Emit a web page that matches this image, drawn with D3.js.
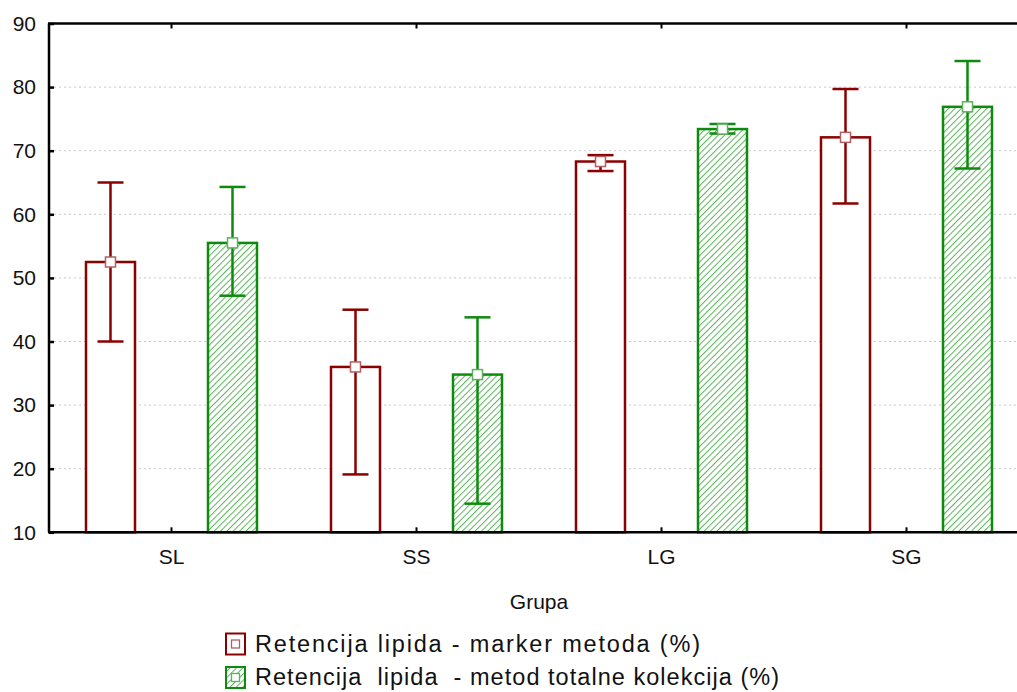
<!DOCTYPE html>
<html>
<head>
<meta charset="utf-8">
<script src="https://cdn.jsdelivr.net/npm/d3@7"></script>
<style>
  html, body { margin: 0; padding: 0; background: #fff; }
  svg { display: block; font-family: "Liberation Sans", Arial, sans-serif; }
</style>
</head>
<body>
<svg id="chart" width="1017" height="692"></svg>
<script>
// Groups on the x axis
const groups = ["SL", "SS", "LG", "SG"];
// Lipid retention, marker method (%): mean, lower and upper error limits
const markerMean = [52.5, 36.0, 68.3, 72.1];
const markerLow  = [40.0, 19.1, 66.8, 61.7];
const markerHigh = [65.0, 45.0, 69.3, 79.7];
// Lipid retention, total collection method (%)
const totalMean = [55.5, 34.8, 73.4, 76.9];
const totalLow  = [47.2, 14.5, 72.7, 67.2];
const totalHigh = [64.3, 43.8, 74.2, 84.1];
const yTicks = [10, 20, 30, 40, 50, 60, 70, 80, 90];
const seriesNames = ["Retencija lipida - marker metoda (%)", "Retencija  lipida  - metod totalne kolekcija (%)"];

const svg = d3.select("#chart");
const plotLeft = 49, plotTop = 23.5, plotBottom = 532.3, plotRight = 1029;

const x = d3.scaleBand().domain(groups).range([plotLeft, plotRight]);
const y = d3.scaleLinear().domain([10, 90]).range([plotBottom, plotTop]);

const red = "#8b0000", green = "#0e8a0e";
const barW = 49, offset = 61, capW = 26;
const fontFam = "Liberation Sans, Arial, sans-serif";

// Hatch pattern for the total collection series
const defs = svg.append("defs");
const pat = defs.append("pattern").attr("id", "hatch")
  .attr("patternUnits", "userSpaceOnUse").attr("width", 4.5).attr("height", 4.5)
  .attr("patternTransform", "rotate(45)");
pat.append("rect").attr("width", 4.5).attr("height", 4.5).attr("fill", "#fff");
pat.append("line").attr("x1", 0).attr("y1", 0).attr("x2", 0).attr("y2", 4.5)
  .attr("stroke", "#5cb45c").attr("stroke-width", 2);

// Dotted gridlines
svg.append("g").selectAll("line").data(yTicks.slice(1, -1)).join("line")
  .attr("x1", plotLeft).attr("x2", plotRight)
  .attr("y1", d => y(d)).attr("y2", d => y(d))
  .attr("stroke", "#c8c8c8").attr("stroke-width", 1).attr("stroke-dasharray", "2,3");

const series = [
  { mean: markerMean, lo: markerLow, hi: markerHigh, color: red, fill: "#fff", dx: -offset, markStroke: "#b06060" },
  { mean: totalMean, lo: totalLow, hi: totalHigh, color: green, fill: "url(#hatch)", dx: offset, markStroke: "#5fb05f" }
];

series.forEach(s => {
  const g = svg.append("g");
  const cx = (d, i) => x(groups[i]) + x.bandwidth() / 2 + s.dx;
  g.selectAll("rect.bar").data(s.mean).join("rect").attr("class", "bar")
    .attr("x", (d, i) => cx(d, i) - barW / 2).attr("width", barW)
    .attr("y", d => y(d)).attr("height", d => plotBottom - y(d))
    .attr("fill", s.fill).attr("stroke", s.color).attr("stroke-width", 2.5);
  // whiskers
  g.selectAll("line.v").data(s.mean).join("line").attr("class", "v")
    .attr("x1", cx).attr("x2", cx)
    .attr("y1", (d, i) => y(s.lo[i])).attr("y2", (d, i) => y(s.hi[i]))
    .attr("stroke", s.color).attr("stroke-width", 2.5);
  g.selectAll("line.capH").data(s.hi).join("line").attr("class", "capH")
    .attr("x1", (d, i) => cx(d, i) - capW / 2).attr("x2", (d, i) => cx(d, i) + capW / 2)
    .attr("y1", d => y(d)).attr("y2", d => y(d))
    .attr("stroke", s.color).attr("stroke-width", 2.5);
  g.selectAll("line.capL").data(s.lo).join("line").attr("class", "capL")
    .attr("x1", (d, i) => cx(d, i) - capW / 2).attr("x2", (d, i) => cx(d, i) + capW / 2)
    .attr("y1", d => y(d)).attr("y2", d => y(d))
    .attr("stroke", s.color).attr("stroke-width", 2.5);
  // mean marker
  g.selectAll("rect.m").data(s.mean).join("rect").attr("class", "m")
    .attr("x", (d, i) => cx(d, i) - 5).attr("y", d => y(d) - 5)
    .attr("width", 10).attr("height", 10)
    .attr("fill", "#fff").attr("stroke", s.markStroke).attr("stroke-width", 1.5);
});

// Frame: left, bottom, top
const axisStroke = 2.5;
svg.append("line").attr("x1", plotLeft).attr("x2", plotLeft).attr("y1", plotTop).attr("y2", plotBottom)
  .attr("stroke", "#000").attr("stroke-width", axisStroke);
svg.append("line").attr("x1", plotLeft - 1).attr("x2", plotRight).attr("y1", plotBottom).attr("y2", plotBottom)
  .attr("stroke", "#000").attr("stroke-width", axisStroke);
svg.append("line").attr("x1", plotLeft - 1).attr("x2", plotRight).attr("y1", plotTop).attr("y2", plotTop)
  .attr("stroke", "#000").attr("stroke-width", axisStroke);

// Y axis
const yAxis = d3.axisLeft(y).tickValues(yTicks).tickSize(-5).tickPadding(13);
const ya = svg.append("g").attr("transform", `translate(${plotLeft},0)`).call(yAxis);
ya.select(".domain").remove();
ya.selectAll(".tick line").attr("stroke", "#000").attr("stroke-width", 2.5);
ya.selectAll(".tick text").attr("font-size", 21).attr("fill", "#111")
  .attr("font-family", fontFam);

// X axis
const xAxis = d3.axisBottom(x).tickSize(-5).tickPadding(17);
const xa = svg.append("g").attr("transform", `translate(0,${plotBottom})`).call(xAxis);
xa.select(".domain").remove();
xa.selectAll(".tick line").attr("stroke", "#000").attr("stroke-width", 2);
xa.selectAll(".tick text").attr("font-size", 21).attr("fill", "#111")
  .attr("font-family", fontFam);

// Top ticks
svg.append("g").selectAll("line").data(groups).join("line")
  .attr("x1", d => x(d) + x.bandwidth() / 2).attr("x2", d => x(d) + x.bandwidth() / 2)
  .attr("y1", plotTop).attr("y2", plotTop + 5).attr("stroke", "#000").attr("stroke-width", 2);

// X axis title
svg.append("text").attr("x", (plotLeft + plotRight) / 2).attr("y", 609)
  .attr("text-anchor", "middle").attr("font-size", 21).attr("fill", "#111").text("Grupa");

// Legend
const legend = svg.append("g");
const legBaseline = [651.5, 685];
const legWidth = [445, 524];
const legStyle = [
  { stroke: red, fill: "#fff", inner: "#b06060" },
  { stroke: green, fill: "url(#hatch)", inner: "#5fb05f" }
];
legStyle.forEach((st, i) => {
  const by = legBaseline[i] - 18;
  legend.append("rect").attr("x", 226).attr("y", by).attr("width", 19).attr("height", 21)
    .attr("fill", st.fill).attr("stroke", st.stroke).attr("stroke-width", 2);
  legend.append("rect").attr("x", 231.5).attr("y", by + 6.5).attr("width", 8).attr("height", 8)
    .attr("fill", "#fff").attr("stroke", st.inner).attr("stroke-width", 1.3);
  legend.append("text").attr("x", 255).attr("y", legBaseline[i])
    .attr("font-size", 23.5).attr("fill", "#111").style("white-space", "pre")
    .attr("textLength", legWidth[i]).attr("lengthAdjust", "spacing")
    .text(seriesNames[i]);
});
</script>
</body>
</html>
